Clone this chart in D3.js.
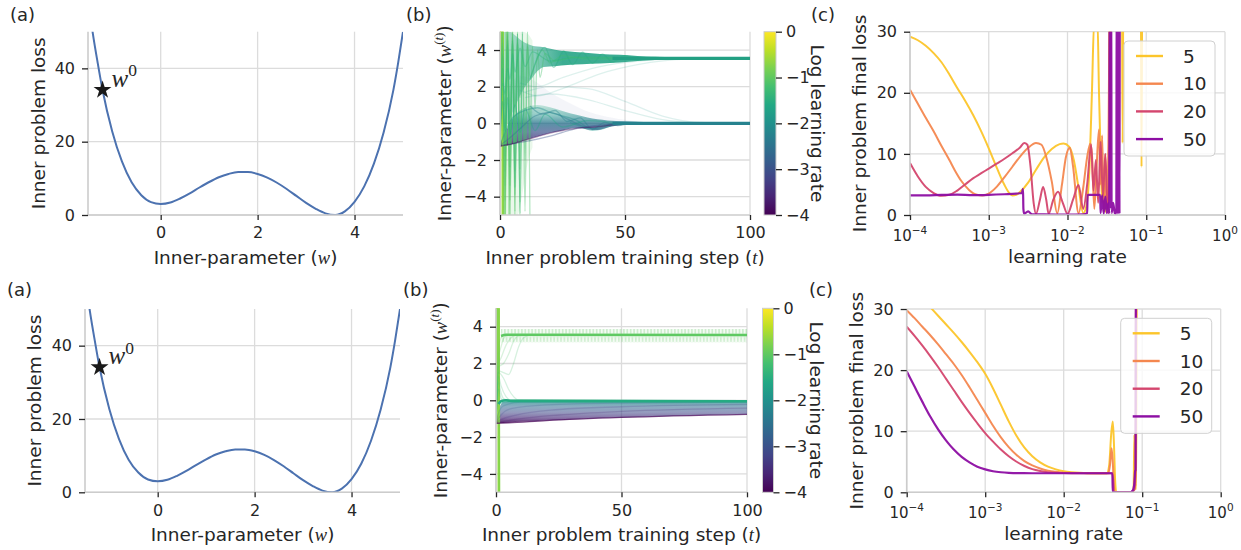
<!DOCTYPE html>
<html><head><meta charset="utf-8">
<script src="https://cdn.jsdelivr.net/npm/d3@7"></script>
<style>body{margin:0;background:#fff}svg{display:block}</style>
</head><body>
<svg id="fig" width="1241" height="550"></svg>
<script>
// ---------------- DATA ----------------
// (a) inner loss landscape
const A_W    = [-1.45,-1.4,-1.3,-1.2,-1.0,-0.8,-0.6,-0.4,-0.2,0,0.2,0.4,0.6,0.8,1.0,1.2,1.4,1.6,1.8,2.0,2.2,2.4,2.6,2.8,3.0,3.2,3.4,3.6,3.8,4.0,4.2,4.4,4.6,4.8,4.9,5.0];
const A_LOSS = [54,49.5,41.5,34.1,22.8,14.6,8.9,5.4,3.5,3.0,3.4,4.5,5.9,7.5,9.0,10.3,11.2,11.7,11.7,11.2,10.2,8.8,7.1,5.2,3.3,1.7,0.45,0.0,1.0,3.6,7.8,14.0,22.5,34.0,41.5,50.0];
const STAR_W = -1.2, STAR_LOSS = 34.1;
const A_XTICKS = [0,2,4], A_YTICKS = [0,20,40];

// (b) trajectories: [log10 learning rate, [[step, w], ...]]
const B_XTICKS = [0,50,100], B_YTICKS = [-4,-2,0,2,4], CBAR_TICKS = [0,-1,-2,-3,-4];
// top row bands: [step, low, high]
const B1_GREEN_HAZE = [[0.3,-5,5],[4,-5,5],[7,-5,5],[9,-3.8,5],[11,-2.2,4.9],[13,-1.3,4.5]];
const B1_FAN = [[0.5,-1.1,5],[2,-0.4,5],[4,0.3,5],[6,0.9,4.8],[8,1.5,4.58],[10,2.0,4.4],[13,2.5,4.24],[15,2.85,4.19],[17.5,3.08,4.15],[22,3.12,4.02],[27,3.18,3.93],[33,3.22,3.86],[40,3.26,3.79],[48,3.32,3.74],[55,3.4,3.68],[62,3.46,3.63],[70,3.5,3.6],[80,3.52,3.58],[100,3.52,3.58]];
const B1_LOW_BAND = [[0,-1.26,-1.14],[2,-1.23,-0.55],[5,-1.13,0.25],[10,-0.92,0.85],[15,-0.72,1.0],[20,-0.53,0.88],[25,-0.39,0.68],[31,-0.26,0.45],[35,-0.33,0.32],[39,-0.36,0.22],[43,-0.22,0.16],[50,-0.07,0.11],[60,-0.03,0.06],[70,-0.02,0.04],[100,-0.035,0.035]];
const B1_HAZE = [[3,-0.3,1.8],[8,0.3,2.6],[14,0.6,2.3],[20,0.7,1.7],[28,0.4,1.1],[36,0.2,0.6],[45,0.1,0.3],[55,0.0,0.1]];
const B1_LINES = [
  [-0.05,[[0,-1.2],[1,80]]],
  [-0.4,[[0,-1.2],[1,30],[2,-300]]],
  [-0.7,[[0,-1.2],[1,10],[2,-60]]],
  [-0.85,[[0,-1.2],[1,7],[2,-14],[3,40]]],
  [-0.95,[[0,-1.2],[1,5.6],[2,-7],[3,9],[4,-20]]],
  [-1.02,[[0,-1.2],[1,5],[2,-5.2],[3,5.8],[4,-6.5]]],
  [-1.06,[[0,-1.2],[1,4.7],[2,-4.2],[3,5.2],[4,-5.3],[5,5.6],[6,-6]]],
  [-1.1,[[0,-1.2],[1,4.4],[2,-3.4],[3,4.9],[4,-4.2],[5,5.0],[6,-4.8],[7,5.2],[8,-5.5]]],
  [-1.13,[[0,-1.2],[1,4.2],[2,-2.6],[3,4.8],[4,-3.4],[5,4.9],[6,-3.9],[7,4.9],[8,-4.3],[9,4.9],[10,-4.8],[11,5.2],[12,-5.5]]],
  [-1.16,[[0,-1.2],[1,4.0],[2,-1.8],[3,4.7],[4,-2.4],[5,4.7],[6,-2.6],[7,4.6],[8,-2.5],[9,4.5],[10,-2],[11,4.4],[12,-1],[13,4.2],[14,0.8],[15,4.0],[16,2.5],[18,3.8],[22,3.4],[30,3.6],[100,3.55]]],
  [-1.2,[[0,-1.2],[1,3.7],[2,-0.8],[3,4.5],[4,-0.2],[5,4.5],[6,0.6],[7,4.4],[8,1.4],[9,4.3],[10,2.0],[11,4.2],[12,2.5],[14,3.2],[17,4.0],[20,3.3],[25,3.7],[35,3.5],[100,3.55]]],
  [-1.3,[[0,-1.2],[1,3.0],[2,0.8],[3,4.3],[4,-1.2],[5,4.5],[6,-3.5],[7,4.9],[8,-4.9],[9,5.3]]],
  [-1.4,[[0,-1.2],[1,2.2],[2,1.6],[3,3.0],[4,2.4],[5,3.8],[6,2.8],[8,4.1],[10,3.1],[13,3.9],[20,3.4],[30,3.6],[100,3.55]]],
  [-1.5,[[12,2.4],[18,4.15],[21.5,3.05],[25.5,3.95],[29,3.2],[33,3.88],[37,3.28],[41,3.78],[45,3.35],[50,3.7],[55,3.45],[62,3.6],[70,3.55],[100,3.55]]],
  [-1.6,[[0,-1.2],[1,1.2],[2,-0.4],[3,1.4],[4,-0.6],[6,1.0],[8,-0.5],[10,0.8],[14,-0.4],[18,0.5],[25,-0.2],[35,0.15],[50,0],[100,0]]],
  [-1.7,[[8,2.2],[15,2.0],[25,2.5],[40,3.1],[55,3.4],[70,3.52],[100,3.55]]],
  [-1.75,[[8,1.8],[15,1.5],[25,1.9],[40,2.7],[55,3.2],[75,3.5],[100,3.55]]],
  [-1.8,[[10,1.4],[20,1.6],[35,1.3],[50,0.7],[65,0.2],[80,0.03],[100,0]]],
  [-1.85,[[10,1.7],[20,2.0],[35,1.9],[50,1.2],[65,0.4],[80,0.05],[100,0]]],
  [-1.9,[[28,0.05],[33,-0.2],[37,-0.38],[41,-0.3],[45,-0.1],[50,0]]],
  [-2.0,[[0,-1.2],[2,-0.5],[5,0.3],[10,0.7],[15,0.85],[20,0.6],[30,0.2],[37,-0.3],[42,-0.1],[50,0.02],[100,0]]],
  [-2.2,[[12,0.95],[17,0.5],[22,0.7],[27,0.1],[32,0.3],[37,-0.32],[42,0.05],[47,-0.12],[53,0.02],[60,-0.02],[100,0]]],
  [-2.4,[[0,-1.2],[3,-0.9],[8,-0.3],[14,0.4],[20,0.6],[26,0.3],[32,-0.1],[38,-0.3],[45,-0.05],[55,0],[100,0]]],
  [-3.0,[[0,-1.2],[10,-1.0],[20,-0.7],[30,-0.3],[40,-0.1],[50,-0.02],[100,0]]],
  [-4.0,[[0,-1.25],[5,-1.12],[10,-0.92],[15,-0.72],[20,-0.53],[25,-0.39],[31,-0.26],[38,-0.2],[45,-0.1],[50,-0.06],[60,-0.03],[100,-0.02]]]
];
const B1_FAINT = [-1.7,-1.75,-1.8,-1.85];
const B1_CONVERGED = [[1.7,[[45,3.55],[100,3.55]]],[-2.3,[[45,0.0],[100,0.0]]]];

// bottom row
const B2_OSC = [[2,3.15,3.88],[100,3.15,3.88]];
const B2_WEDGE = [[0,-1.26,-1.18],[1,-1.25,-0.55],[2,-1.24,-0.2],[3,-1.23,-0.07],[5,-1.21,-0.04],[10,-1.17,-0.04],[20,-1.1,-0.05],[35,-1.0,-0.05],[50,-0.93,-0.05],[70,-0.85,-0.05],[100,-0.76,-0.05]];
const B2_LINES = [
  [-0.2,[[0,-1.2],[1,150]]],
  [-0.55,[[0,-1.2],[1,20],[2,-200]]],
  [-0.75,[[0,-1.2],[1,8],[2,-50]]],
  [-0.9,[[0,-1.2],[1,2.8],[2,3.4],[3,3.55],[100,3.55]]],
  [-1.0,[[0,-1.2],[1,2.3],[2,2.9],[3,3.35],[4,3.5],[6,3.55],[100,3.55]]],
  [-1.05,[[0,-1.2],[1,2.0],[2,2.3],[4,3.0],[6,3.4],[8,3.55],[100,3.55]]],
  [-1.1,[[0,-1.2],[1,1.8],[3,2.0],[5,2.5],[7,3.2],[9,3.5],[12,3.55]]],
  [-1.15,[[0,-1.2],[1,1.6],[3,1.5],[5,1.4],[7,2.0],[9,2.9],[11,3.4],[14,3.55]]],
  [-1.2,[[0,-1.2],[1,1.5],[3,1.2],[5,0.6],[7,0.2],[9,0.02],[100,-0.03]]],
  [-1.25,[[0,-1.2],[1,1.3],[2,0.8],[4,0.2],[6,0],[100,-0.03]]],
  [-1.3,[[0,-1.2],[1,1.0],[2,0.4],[3,0.1],[5,0],[100,-0.03]]],
  [-1.4,[[0,-1.2],[1,0.6],[2,0.1],[3,0.0],[100,-0.04]]],
  [-2.5,[[0,-1.2],[1,-0.7],[3,-0.3],[10,-0.1],[100,-0.06]]],
  [-3.0,[[0,-1.2],[2,-0.8],[6,-0.45],[20,-0.25],[50,-0.15],[100,-0.1]]],
  [-3.4,[[0,-1.2],[2,-1.05],[8,-0.8],[25,-0.5],[50,-0.35],[100,-0.22]]],
  [-3.7,[[0,-1.22],[3,-1.15],[10,-1.0],[25,-0.8],[50,-0.6],[100,-0.42]]],
  [-4.0,[[0,-1.25],[5,-1.22],[20,-1.1],[50,-0.93],[100,-0.76]]]
];
const B2_CONVERGED = [[-1.0,[[2,3.5],[4,3.56],[100,3.55]]],[-1.55,[[1,-0.2],[2,-0.05],[4,0.0],[6,-0.03],[100,-0.05]]]];

// (c) final loss vs log10(learning rate), per number of steps
const C_XTICKS = [-4,-3,-2,-1,0], C_YTICKS = [0,10,20,30];
const STEP_LABELS = ["5","10","20","50"];
const STEP_COLORS = ["#fcc52a","#f4874f","#d4466e","#8d0ea3"];
const C1_S5 = [[-4,29.2],[-3.9,28.6],[-3.8,27.7],[-3.7,26.5],[-3.6,25.0],[-3.5,23.0],[-3.4,20.8],[-3.3,18.7],[-3.2,16.4],[-3.1,13.8],[-3.0,10.9],[-2.9,7.8],[-2.8,4.9],[-2.74,3.6],[-2.7,3.2],[-2.65,3.3],[-2.6,3.8],[-2.5,5.3],[-2.4,7.4],[-2.3,9.4],[-2.2,10.8],[-2.1,11.6],[-2.05,11.7],[-1.98,11.2],[-1.92,9],[-1.86,4.5],[-1.8,0.3],[-1.76,1.5],[-1.72,8],[-1.69,20],[-1.66,32],[-1.62,32],[-1.6,20],[-1.58,10],[-1.56,2],[-1.54,6],[-1.52,0.5],[-1.5,4],[-1.48,0.3],[-1.46,40],[-1.31,40],[-1.3,11.8],[-1.29,40],[-1.07,40],[-1.06,7.9],[-1.05,40],[0,40]];
const C1_S10 = [[-4,20.5],[-3.9,18.2],[-3.8,15.9],[-3.7,13.7],[-3.6,11.3],[-3.5,9.0],[-3.43,7.3],[-3.35,5.6],[-3.25,4.1],[-3.15,3.3],[-3.08,3.2],[-3.0,3.5],[-2.9,4.6],[-2.8,6.2],[-2.7,7.9],[-2.6,9.6],[-2.5,11.0],[-2.4,11.8],[-2.33,11.5],[-2.27,9.5],[-2.2,5.5],[-2.13,0.3],[-2.07,5],[-2.02,9.5],[-1.97,11],[-1.93,8],[-1.86,0.3],[-1.8,4.5],[-1.75,9.5],[-1.71,11.7],[-1.69,10],[-1.66,1],[-1.63,8],[-1.6,14],[-1.58,5],[-1.56,13],[-1.54,0.5],[-1.52,10],[-1.5,1],[-1.48,12],[-1.46,40],[0,40]];
const C1_S20 = [[-4,8.5],[-3.9,6.3],[-3.8,4.6],[-3.7,3.6],[-3.6,3.15],[-3.5,3.3],[-3.4,4.0],[-3.3,5.0],[-3.2,6.0],[-3.1,6.8],[-3.0,7.6],[-2.9,8.4],[-2.8,9.2],[-2.7,10.1],[-2.6,11.1],[-2.55,11.8],[-2.51,11.5],[-2.47,8],[-2.43,2],[-2.4,0.2],[-2.35,2.5],[-2.31,4.6],[-2.27,2.5],[-2.24,0.2],[-2.18,2.5],[-2.12,3.8],[-2.06,2],[-2.0,0.2],[-1.93,2.5],[-1.86,4.9],[-1.8,1],[-1.75,5],[-1.7,11.5],[-1.67,4],[-1.64,9],[-1.61,2],[-1.58,12],[-1.55,3],[-1.52,10],[-1.49,1],[-1.46,12],[-1.44,40],[0,40]];
const C1_S50 = [[-4,3.2],[-3.8,3.2],[-3.6,3.3],[-3.4,3.35],[-3.2,3.25],[-3.0,3.3],[-2.8,3.4],[-2.65,3.5],[-2.58,3.6],[-2.565,4.3],[-2.56,1.0],[-2.55,0.2],[-2.5,0.6],[-2.45,0.1],[-2.3,0.1],[-2.0,0.05],[-1.8,0.1],[-1.75,0.3],[-1.745,3.3],[-1.6,3.3],[-1.585,3.3],[-1.58,0.3],[-1.56,3.2],[-1.54,0.2],[-1.52,3],[-1.5,0.3],[-1.48,2],[-1.47,0.2],[-1.465,40],[-1.46,2],[-1.455,40],[-1.45,1],[-1.445,40],[-1.44,0.3],[-1.42,2],[-1.4,0.3],[-1.38,0.2],[-1.375,40],[-1.37,0.2],[-1.365,40],[-1.36,0.2],[-1.355,40],[-1.35,0.3],[-1.345,40],[-1.34,0.2],[-1.335,40],[0,40]];
const C2_S5 = [[-3.9,33.1],[-3.8,31.7],[-3.7,30.3],[-3.6,28.9],[-3.5,27.5],[-3.4,26.1],[-3.3,24.6],[-3.2,23.0],[-3.1,21.3],[-3.0,19.4],[-2.9,17.0],[-2.8,14.3],[-2.7,11.6],[-2.6,9.2],[-2.5,7.3],[-2.4,5.9],[-2.3,4.9],[-2.2,4.2],[-2.1,3.75],[-2.0,3.45],[-1.9,3.28],[-1.8,3.18],[-1.7,3.13],[-1.45,3.12],[-1.42,4.5],[-1.395,9.5],[-1.375,11.6],[-1.36,8],[-1.345,2],[-1.33,0],[-1.14,0],[-1.11,0.3],[-1.1,9.4],[-1.09,0.6],[-1.075,0.6],[-1.07,40],[0,40]];
const C2_S10 = [[-4,29.8],[-3.9,28.5],[-3.8,27.1],[-3.7,25.7],[-3.6,24.2],[-3.5,22.6],[-3.4,21.0],[-3.3,19.2],[-3.2,17.2],[-3.1,15.1],[-3.0,13.0],[-2.9,10.9],[-2.8,9.0],[-2.7,7.4],[-2.6,6.1],[-2.5,5.1],[-2.4,4.4],[-2.3,3.9],[-2.2,3.55],[-2.1,3.35],[-2.0,3.22],[-1.8,3.14],[-1.43,3.12],[-1.41,4.5],[-1.39,7.2],[-1.375,5],[-1.36,1],[-1.35,0],[-1.15,0],[-1.11,0.4],[-1.095,2.5],[-1.085,1],[-1.07,40],[0,40]];
const C2_S20 = [[-4,27.1],[-3.9,25.6],[-3.8,24.0],[-3.7,22.3],[-3.6,20.5],[-3.5,18.6],[-3.4,16.7],[-3.3,14.8],[-3.2,13.0],[-3.1,11.3],[-3.0,9.7],[-2.9,8.3],[-2.8,7.0],[-2.7,5.9],[-2.6,5.0],[-2.5,4.3],[-2.4,3.8],[-2.3,3.5],[-2.2,3.3],[-2.1,3.2],[-2.0,3.15],[-1.8,3.12],[-1.38,3.12],[-1.37,2],[-1.36,0],[-1.15,0],[-1.1,0.4],[-1.085,3],[-1.08,40],[0,40]];
const C2_S50 = [[-4,19.8],[-3.9,17.3],[-3.8,14.8],[-3.7,12.4],[-3.6,10.3],[-3.5,8.5],[-3.4,7.0],[-3.3,5.8],[-3.2,4.9],[-3.1,4.2],[-3.0,3.75],[-2.9,3.45],[-2.8,3.28],[-2.7,3.18],[-2.6,3.13],[-2.4,3.12],[-1.38,3.12],[-1.375,0],[-1.15,0],[-1.12,0.3],[-1.1,1.5],[-1.09,3.5],[-1.085,3.6],[-1.08,40],[0,40]];

// ---------------- DRAWING ----------------
const svg = d3.select("#fig");
const defs = svg.append("defs");
const INK = "#262626", GRID = "#dcdcdc", SPINE = "#cccccc";
const FONT = "DejaVu Sans", MATH = "Liberation Serif";
const viridis = d3.scaleSequential(d3.interpolateViridis).domain([-4,0]);

function clip(id, L){
  defs.append("clipPath").attr("id",id).append("rect")
    .attr("x",L.l).attr("y",L.t).attr("width",L.r-L.l).attr("height",L.b-L.t);
}
function grid(L,x,y,xt,yt){
  const g = svg.append("g").attr("stroke",GRID).attr("stroke-width",1.3);
  g.selectAll(null).data(xt).join("line").attr("x1",d=>x(d)).attr("x2",d=>x(d)).attr("y1",L.t).attr("y2",L.b);
  g.selectAll(null).data(yt).join("line").attr("y1",d=>y(d)).attr("y2",d=>y(d)).attr("x1",L.l).attr("x2",L.r);
}
function spines(L){
  svg.append("line").attr("x1",L.l).attr("x2",L.l).attr("y1",L.t).attr("y2",L.b).attr("stroke",SPINE).attr("stroke-width",1.6);
  svg.append("line").attr("x1",L.l).attr("x2",L.r).attr("y1",L.b).attr("y2",L.b).attr("stroke",SPINE).attr("stroke-width",1.6);
}
function styleAxis(g){
  g.select(".domain").remove();
  g.attr("font-family",FONT).attr("font-size",16);
  g.selectAll(".tick line").attr("stroke",INK).attr("stroke-width",1.3);
  g.selectAll(".tick text").attr("fill",INK);
}
function yAxis(L,y,ticks){
  const g = svg.append("g").attr("transform",`translate(${L.l},0)`)
    .call(d3.axisLeft(y).tickValues(ticks).tickSize(6).tickPadding(7).tickFormat(d3.format("d")));
  styleAxis(g);
}
function xAxis(L,x,ticks,fmt){
  const g = svg.append("g").attr("transform",`translate(0,${L.b})`)
    .call(d3.axisBottom(x).tickValues(ticks).tickSize(5).tickPadding(7).tickFormat(fmt||d3.format("d")));
  styleAxis(g);
  return g;
}
function richText(sel, parts, size){
  let raised = false;
  parts.forEach(([s,st])=>{
    const t = sel.append("tspan").text(s);
    const isSup = st && st.startsWith("sup");
    if (st==="i"||st==="supi"){ t.attr("font-family",MATH).attr("font-style","italic"); }
    if (st==="m"||st==="sup"){ t.attr("font-family",MATH); }
    if (isSup){ t.attr("font-size",size*0.7); if(!raised){ t.attr("dy",-size*0.42); raised=true; } }
    else if (raised){ t.attr("dy",size*0.42); raised=false; }
  });
}
function label(x,y,rot,parts,size,anchor){
  const t = svg.append("text").attr("transform",`translate(${x},${y}) rotate(${rot})`)
    .attr("text-anchor",anchor||"middle").attr("font-family",FONT).attr("font-size",size).attr("fill",INK);
  richText(t, parts, size);
  return t;
}
const areaGen = (x,y)=>d3.area().x(d=>x(d[0])).y0(d=>y(d[1])).y1(d=>y(d[2])).curve(d3.curveMonotoneX);
const lineGen = (x,y)=>d3.line().x(d=>x(d[0])).y(d=>y(d[1])).curve(d3.curveMonotoneX);

// ---------- Panel (a) ----------
function panelA(L,row,ylabX){
  const x = d3.scaleLinear([-1.5,5],[L.l,L.r]);
  const y = d3.scaleLinear([0,50],[L.b,L.t]);
  clip("clipA"+row, L);
  grid(L,x,y,A_XTICKS,A_YTICKS);
  const pts = A_W.map((w,i)=>[w,A_LOSS[i]]);
  svg.append("path").attr("clip-path",`url(#clipA${row})`).datum(pts)
    .attr("d",lineGen(x,y)).attr("fill","none").attr("stroke","#4c72b0").attr("stroke-width",2);
  spines(L);
  yAxis(L,y,A_YTICKS); xAxis(L,x,A_XTICKS);
  svg.append("path").attr("d",d3.symbol(d3.symbolStar).size(100)())
    .attr("transform",`translate(${x(STAR_W)},${y(STAR_LOSS)})`).attr("fill","#1a1a1a");
  label(x(STAR_W)+9, y(STAR_LOSS)-3, 0, [["w","i"],["0","sup"]], 25, "start");
  label(ylabX, (L.t+L.b)/2, -90, [["Inner problem loss",""]], 18.5);
  label((L.l+L.r)/2, L.b+48.5, 0, [["Inner-parameter (",""],["w","i"],[")",""]], 18.5);
}

// ---------- Panel (b) ----------
function panelB(L,row,cb,ylabX,cbLabX){
  const x = d3.scaleLinear([0,100],[L.l,L.r]);
  const y = d3.scaleLinear([-5,5],[L.b,L.t]);
  const id = "clipB"+row;
  clip(id, L);
  grid(L,x,y,B_XTICKS,B_YTICKS);
  const g = svg.append("g").attr("clip-path",`url(#${id})`);
  const area = areaGen(x,y), line = lineGen(x,y);
  if (row===0){
    g.append("path").datum(B1_GREEN_HAZE).attr("d",area).attr("fill",viridis(-1.0)).attr("fill-opacity",0.13);
    g.append("path").datum(B1_HAZE).attr("d",area).attr("fill","#6a6fb0").attr("fill-opacity",0.07);
    const fg = defs.append("linearGradient").attr("id","fanGrad").attr("gradientUnits","userSpaceOnUse")
      .attr("x1",x(0)).attr("x2",x(25)).attr("y1",0).attr("y2",0);
    [[0,0.28],[0.5,0.5],[1,0.88]].forEach(([o,a])=>fg.append("stop").attr("offset",o).attr("stop-color","#22a284").attr("stop-opacity",a));
    g.append("path").datum(B1_FAN).attr("d",area).attr("fill","url(#fanGrad)");
    const lg = defs.append("linearGradient").attr("id","lowGrad").attr("gradientUnits","userSpaceOnUse")
      .attr("x1",0).attr("x2",0).attr("y1",y(-1.25)).attr("y2",y(1.0));
    [[0,"#440154",0.85],[0.15,"#472d7b",0.75],[0.35,"#3b528b",0.7],[0.55,"#2c728e",0.78],[0.75,"#21918c",0.5],[1,"#27ad81",0.25]]
      .forEach(([o,c,a])=>lg.append("stop").attr("offset",o).attr("stop-color",c).attr("stop-opacity",a));
    g.append("path").datum(B1_LOW_BAND).attr("d",area).attr("fill","url(#lowGrad)");
    B1_LINES.forEach(([lr,pts])=>{
      const fast = lr > -0.8;
      const faint = B1_FAINT.includes(lr);
      g.append("path").datum(pts).attr("d",line).attr("fill","none")
        .attr("stroke",viridis(lr)).attr("stroke-width",fast?2.2:1.3)
        .attr("stroke-opacity",fast?0.9:(faint?0.15:0.4));
    });
    B1_CONVERGED.forEach(([lr,pts],i)=>{
      g.append("path").datum(pts).attr("d",line).attr("fill","none")
        .attr("stroke",i===0?"#23a083":"#26828e").attr("stroke-width",3.2);
    });
  } else {
    const h = y(3.15)-y(3.88);
    const pat = defs.append("pattern").attr("id","zig").attr("patternUnits","userSpaceOnUse")
      .attr("width",3.4).attr("height",h).attr("x",0).attr("y",y(3.88));
    pat.append("path").attr("d",`M0,${h} L1.7,0 L3.4,${h}`).attr("fill","none").attr("stroke",viridis(-1.0)).attr("stroke-opacity",0.3).attr("stroke-width",0.8);
    g.append("path").datum(B2_OSC).attr("d",area).attr("fill","url(#zig)");
    g.append("path").datum(B2_OSC).attr("d",area).attr("fill",viridis(-1.0)).attr("fill-opacity",0.07);
    const wg = defs.append("linearGradient").attr("id","wedgeGrad").attr("gradientUnits","userSpaceOnUse")
      .attr("x1",0).attr("x2",0).attr("y1",y(-1.26)).attr("y2",y(-0.04));
    [[0,"#440154",0.85],[0.25,"#482878",0.65],[0.5,"#3e4989",0.55],[0.75,"#31688e",0.55],[0.9,"#26828e",0.65],[1,"#1f9e89",0.85]]
      .forEach(([o,c,a])=>wg.append("stop").attr("offset",o).attr("stop-color",c).attr("stop-opacity",a));
    g.append("path").datum(B2_WEDGE).attr("d",area).attr("fill","url(#wedgeGrad)");
    B2_LINES.forEach(([lr,pts])=>{
      const fast = lr > -0.8;
      g.append("path").datum(pts).attr("d",line).attr("fill","none")
        .attr("stroke",viridis(lr)).attr("stroke-width",fast?2.4:1.3)
        .attr("stroke-opacity",fast?0.95:(lr<=-3.9?0.7:(lr<-2?0.2:0.22)));
    });
    B2_CONVERGED.forEach(([lr,pts])=>{
      g.append("path").datum(pts).attr("d",line).attr("fill","none").attr("stroke",viridis(lr)).attr("stroke-width",2.6);
    });
  }
  spines(L);
  yAxis(L,y,B_YTICKS); xAxis(L,x,B_XTICKS);
  label(ylabX, (L.t+L.b)/2, -90, [["Inner-parameter (",""],["w","i"],["(","sup"],["t","supi"],[")","sup"],[")",""]], 18.5);
  label((L.l+L.r)/2, L.b+48.5, 0, [["Inner problem training step (",""],["t","i"],[")",""]], 18.5);
  // colorbar
  const cy = d3.scaleLinear([-4,0],[L.b,L.t]);
  const gid = "cbGrad"+row;
  const cg = defs.append("linearGradient").attr("id",gid).attr("x1",0).attr("x2",0).attr("y1",1).attr("y2",0);
  d3.range(0,1.0001,0.1).forEach(o=>cg.append("stop").attr("offset",o).attr("stop-color",d3.interpolateViridis(o)));
  svg.append("rect").attr("x",cb.l).attr("y",L.t).attr("width",cb.w).attr("height",L.b-L.t)
    .attr("fill",`url(#${gid})`).attr("stroke",SPINE).attr("stroke-width",1);
  const ca = svg.append("g").attr("transform",`translate(${cb.l+cb.w},0)`)
    .call(d3.axisRight(cy).tickValues(CBAR_TICKS).tickSize(6).tickPadding(4).tickFormat(d3.format("d")));
  styleAxis(ca);
  label(cbLabX, (L.t+L.b)/2, 90, [["Log learning rate",""]], 18.5);
}

// ---------- Panel (c) ----------
function panelC(L,row,series,leg){
  const x = d3.scaleLog([1e-4,1],[L.l,L.r]);
  const y = d3.scaleLinear([0,30],[L.b,L.t]);
  const xt = C_XTICKS.map(e=>10**e);
  const id = "clipC"+row;
  clip(id, L);
  grid(L,x,y,xt,C_YTICKS);
  const g = svg.append("g").attr("clip-path",`url(#${id})`);
  const line = d3.line().x(d=>x(10**d[0])).y(d=>y(d[1])).curve(d3.curveMonotoneX);
  series.forEach((s,i)=>{
    g.append("path").datum(s).attr("d",line).attr("fill","none")
      .attr("stroke",STEP_COLORS[i]).attr("stroke-width",i===3?2.2:2).attr("stroke-opacity",0.95);
  });
  spines(L);
  yAxis(L,y,C_YTICKS);
  const xa = xAxis(L,x,xt,()=>"");
  xa.selectAll(".tick text").remove();
  C_XTICKS.forEach(e=>{
    const t = svg.append("text").attr("x",x(10**e)).attr("y",L.b+25.5).attr("text-anchor","middle")
      .attr("font-family",FONT).attr("font-size",15).attr("fill",INK);
    t.append("tspan").text("10");
    t.append("tspan").text(e===0?"0":"\u2212"+(-e)).attr("font-size",10.5).attr("dy",-7);
  });
  label(L.l-44, (L.t+L.b)/2, -90, [["Inner problem final loss",""]], 18.5);
  label((L.l+L.r)/2, L.b+47.5, 0, [["learning rate",""]], 18.5);
  // legend
  svg.append("rect").attr("x",leg.x).attr("y",leg.y).attr("width",leg.w).attr("height",leg.h).attr("rx",4)
    .attr("fill","#fff").attr("fill-opacity",0.8).attr("stroke","#d0d0d0").attr("stroke-width",1);
  STEP_LABELS.forEach((lab,i)=>{
    const yy = leg.y + 15 + i*27.7;
    svg.append("line").attr("x1",leg.x+12).attr("x2",leg.x+39).attr("y1",yy).attr("y2",yy)
      .attr("stroke",STEP_COLORS[i]).attr("stroke-width",2.4);
    svg.append("text").attr("x",leg.x+59).attr("y",yy).attr("dy","0.36em").attr("font-family",FONT)
      .attr("font-size",18.5).attr("fill",INK).text(lab);
  });
}

// panel labels
[["(a)",10,20.5],["(b)",406,20.5],["(c)",811,20.5],["(a)",7,296],["(b)",403,296],["(c)",809,296]].forEach(([s,xx,yy])=>{
  svg.append("text").attr("x",xx).attr("y",yy).attr("font-family",FONT).attr("font-size",18).attr("fill",INK).text(s);
});

panelA({l:88,r:403,t:31.7,b:215},0,45);
panelA({l:85,r:400,t:309,b:492.3},1,41);
panelB({l:500,r:750,t:31.7,b:215},0,{l:764,w:12},451,811);
panelB({l:496,r:747,t:308.3,b:492.3},1,{l:762.5,w:11},447,810);
panelC({l:910,r:1225,t:31.7,b:215},0,[C1_S5,C1_S10,C1_S20,C1_S50],{x:1124,y:41,w:91,h:115});
panelC({l:906.7,r:1220.7,t:309,b:492.3},1,[C2_S5,C2_S10,C2_S20,C2_S50],{x:1120.7,y:318.3,w:91,h:115});
</script>
</body></html>
